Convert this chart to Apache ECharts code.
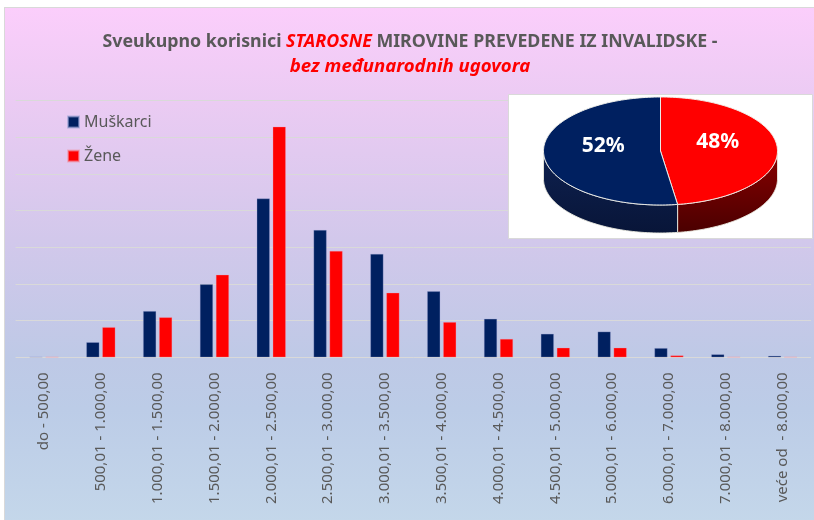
<!DOCTYPE html>
<html>
<head>
<meta charset="utf-8">
<script src="https://cdn.jsdelivr.net/npm/echarts@6/dist/echarts.min.js"></script>
<style>
html,body{margin:0;padding:0;background:#fff;}
#wrap{position:relative;width:814px;height:520px;overflow:hidden;background:#fff;}
#panel{position:absolute;left:4px;top:7px;width:812px;height:515px;border-left:1px solid #D9D9D9;border-top:1px solid #D9D9D9;
background:linear-gradient(to bottom,#FBCEFB 0%,#EBCBF3 18%,#D2C8EB 45%,#BEC9E6 68%,#BCCCE7 78%,#C4D7EA 100%);}
#chart{position:absolute;left:0;top:0;width:814px;height:520px;}
</style>
</head>
<body>
<div id="wrap"><div id="panel"></div><div id="chart"></div></div>
<script>
const categories = ['do - 500,00','500,01 - 1.000,00','1.000,01 - 1.500,00','1.500,01 - 2.000,00','2.000,01 - 2.500,00','2.500,01 - 3.000,00','3.000,01 - 3.500,00','3.500,01 - 4.000,00','4.000,01 - 4.500,00','4.500,01 - 5.000,00','5.000,01 - 6.000,00','6.000,01 - 7.000,00','7.000,01 - 8.000,00','veće od  - 8.000,00'];
const muskarci = [1,41,126,199,433,347,282,180,105,64,70,25,8,4];
const zene = [1,82,109,225,629,290,176,96,50,26,26,5,1,1];
const seriesNames = ['Muškarci','Žene'];

const sum = a => a.reduce((s,v)=>s+v,0);
// pie order: Žene first, clockwise from 12 o'clock
const pieValues = [sum(zene), sum(muskarci)];
const pieTop = ['#FF0000','#002060'];
const pieSide = [['#8A0000','#4A0000'],['#0E2150','#081538']];

const FONT = '"Noto Sans", "Open Sans", sans-serif';
const chart = echarts.init(document.getElementById('chart'), null, {renderer:'canvas'});

const P = {cx:660.5, cy:151, rx:117, ry:54, depth:28};
function arc(a,b,dy){
  const pts=[]; const n=Math.max(2,Math.ceil(Math.abs(b-a)/1.5));
  for(let k=0;k<=n;k++){const t=(a+(b-a)*k/n)*Math.PI/180;
    pts.push([P.cx+P.rx*Math.cos(t), P.cy+P.ry*Math.sin(t)+dy]);}
  return pts;
}
function renderPie(params, api){
  const i = params.dataIndex;
  const total = sum(pieValues);
  let a = -90;
  for(let k=0;k<i;k++) a += pieValues[k]/total*360;
  const b = a + api.value(0)/total*360;
  const children = [];
  const fa = Math.max(a,0), fb = Math.min(b,180);
  if(fb>fa){
    const pts = arc(fa,fb,0).concat(arc(fb,fa,P.depth));
    children.push({type:'polygon', z2:1, shape:{points:pts},
      style:{fill:new echarts.graphic.LinearGradient(0,0,0,1,[{offset:0,color:pieSide[i][0]},{offset:1,color:pieSide[i][1]}]),
      stroke:'rgba(235,235,225,0.9)', lineWidth:1}});
  }
  children.push({type:'polygon', z2:2, shape:{points:[[P.cx,P.cy]].concat(arc(a,b,0))},
    style:{fill:pieTop[i], stroke:'rgba(240,240,235,0.95)', lineWidth:1}});
  const m = (a+b)/2*Math.PI/180;
  const pct = Math.round(api.value(0)/total*100)+'%';
  children.push({type:'text', z2:3, x:P.cx+P.rx*0.49*Math.cos(m), y:P.cy+P.ry*0.49*Math.sin(m)-7,
    style:{text:pct, fill:'#fff', font:'bold 21px '+FONT, align:'center', verticalAlign:'middle'}});
  return {type:'group', children};
}

chart.setOption({
  backgroundColor:'transparent',
  animation:false,
  title:{
    left:410, top:29, textAlign:'center', padding:0,
    text:'{g|Sveukupno korisnici }{r|STAROSNE}{g| MIROVINE PREVEDENE IZ INVALIDSKE -}\n{r2|bez međunarodnih ugovora}',
    textStyle:{fontFamily:FONT, fontSize:17.8, lineHeight:25,
      rich:{
        g:{color:'#595959', fontWeight:'bold', fontSize:17.8, fontFamily:FONT, lineHeight:25},
        r:{color:'#FF0000', fontWeight:'bold', fontStyle:'italic', fontSize:17.8, fontFamily:FONT, lineHeight:25},
        r2:{color:'#FF0000', fontWeight:'bold', fontStyle:'italic', fontSize:18.6, fontFamily:FONT, lineHeight:25}
      }}
  },
  legend:{
    data:seriesNames, orient:'vertical', left:67, top:114, padding:0, itemWidth:11, itemHeight:11, itemGap:18, icon:'rect',
    textStyle:{color:'#595959', fontSize:16, fontFamily:FONT}
  },
  grid:{left:15.6, right:3, top:100.7, bottom:162.7},
  xAxis:{type:'category', data:categories, axisTick:{show:false}, axisLine:{show:false},
    axisLabel:{rotate:90, interval:0, margin:15, color:'#595959', fontSize:15, fontFamily:FONT}},
  yAxis:{type:'value', min:0, max:700, interval:100, axisLabel:{show:false}, axisLine:{show:false}, axisTick:{show:false},
    splitLine:{lineStyle:{color:'#D9D9D9', width:1}}},
  graphic:{elements:[{type:'rect', x:508.5, y:94.5, z:8, shape:{x:0,y:0,width:304,height:144},
    style:{fill:'#FFFFFF', stroke:'#D9D9D9', lineWidth:1}}]},
  series:[
    {name:seriesNames[0], type:'bar', data:muskarci, barWidth:13, barGap:'23%',
      itemStyle:{color:'#002060', borderColor:'rgba(150,160,210,0.6)', borderWidth:0.5}},
    {name:seriesNames[1], type:'bar', data:zene, barWidth:13,
      itemStyle:{color:'#FF0000', borderColor:'rgba(240,150,170,0.6)', borderWidth:0.5}},
    {type:'custom', coordinateSystem:'none', z:10, silent:true, data:pieValues, renderItem:renderPie}
  ]
});
</script>
</body>
</html>
